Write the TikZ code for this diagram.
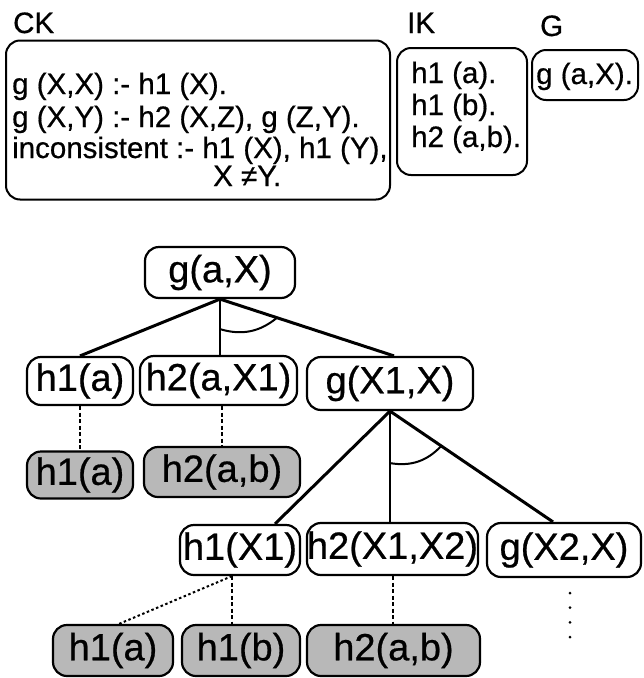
\documentclass[tikz,border=0pt]{standalone}
\usepackage{fontspec}
\setmainfont{Liberation Sans}[FakeBold=0.6]
\usetikzlibrary{calc}
\definecolor{leafgray}{gray}{0.72}
\begin{document}
\begin{tikzpicture}[x=1pt,y=-1pt,
  toptext/.style={font=\fontsize{29.5}{33}\selectfont, inner sep=0pt, anchor=base west},
  kbox/.style={draw, line width=2pt, rounded corners=14pt, inner sep=0pt},
  goal/.style={draw, line width=2.2pt, rounded corners=14pt, inner sep=0pt, font=\fontsize{38}{42}\selectfont},
  fact/.style={goal, fill=leafgray},
  branch/.style={line width=3pt},
  stem/.style={line width=2pt},
  andarc/.style={line width=2pt},
  proof/.style={line width=2pt, dash pattern=on 4pt off 2.5pt},
  proofdiag/.style={line width=2pt, dash pattern=on 2.5pt off 2.5pt},
  more/.style={line width=3pt, line cap=round, dash pattern=on 0pt off 14.7pt}
]
\useasboundingbox (0,0) rectangle (644,678);

% knowledge boxes
\node[toptext] (cklabel) at (13,33) {CK};
\node[kbox, minimum width=384pt, minimum height=159pt] (ck) at (198,120) {};
\node[toptext] (ck1) at (12,94) {g (X,X) :- h1 (X).};
\node[toptext] (ck2) at (12,127) {g (X,Y) :- h2 (X,Z), g (Z,Y).};
\node[toptext] (ck3) at (12,158) {inconsistent :- h1 (X), h1 (Y),};
\node[toptext] (ck4) at (213,186) {X ≠Y.};

\node[toptext] (iklabel) at (407,33) {IK};
\node[kbox, minimum width=130pt, minimum height=127pt] (ik) at (462,111.5) {};
\node[toptext] (ik1) at (411,83) {h1 (a).};
\node[toptext] (ik2) at (411,115) {h1 (b).};
\node[toptext] (ik3) at (411,147) {h2 (a,b).};

\node[toptext] (glabel) at (540,36) {G};
\node[kbox, minimum width=106pt, minimum height=50pt] (gq) at (585,75) {};
\node[toptext] (g1) at (536,84) {g (a,X).};

% proof tree
\node[goal, minimum width=150pt, minimum height=51pt] (root) at (220,272.5) {g(a,X)};
\node[goal, minimum width=106pt, minimum height=48pt] (h1a) at (80,381) {h1(a)};
\node[goal, minimum width=157pt, minimum height=49pt] (h2aX1) at (218.5,380.5) {h2(a,X1)};
\node[goal, minimum width=166pt, minimum height=53pt] (gX1X) at (390,383.5) {g(X1,X)};
\node[fact, minimum width=106pt, minimum height=47pt] (fa) at (80,475) {h1(a)};
\node[fact, minimum width=156pt, minimum height=50pt] (fab) at (222,472) {h2(a,b)};
\node[goal, minimum width=120pt, minimum height=50pt] (h1X1) at (240,550) {h1(X1)};
\node[goal, minimum width=171pt, minimum height=52pt] (h2X1X2) at (392.5,549) {h2(X1,X2)};
\node[goal, minimum width=154pt, minimum height=54pt] (gX2X) at (564,550) {g(X2,X)};
\node[fact, minimum width=120pt, minimum height=51pt] (fa2) at (113,650.5) {h1(a)};
\node[fact, minimum width=118pt, minimum height=51pt] (fb2) at (241,650.5) {h1(b)};
\node[fact, minimum width=173pt, minimum height=51pt] (fab2) at (393.5,650.5) {h2(a,b)};

% level 1 connectors
\draw[branch] (root.south) -- (h1a.north);
\draw[stem] (root.south) -- (root.south |- h2aX1.north);
\draw[branch] (root.south) -- ($(gX1X.north)+(4,0)$);
\draw[andarc] ($(root.south)!30pt!(root.south |- h2aX1.north)$) to[bend right=28] ($(root.south)!60pt!($(gX1X.north)+(4,0)$)$);

% level 2 connectors
\draw[branch] (gX1X.south) -- ($(h1X1.north)+(35,0)$);
\draw[stem] (gX1X.south) -- (gX1X.south |- h2X1X2.north);
\draw[branch] (gX1X.south) -- ($(gX2X.north)+(-11,0)$);
\draw[andarc] ($(gX1X.south)!52pt!(gX1X.south |- h2X1X2.north)$) to[bend right=28] ($(gX1X.south)!62pt!($(gX2X.north)+(-11,0)$)$);

% proof links
\draw[proof] (h1a.south) -- (fa.north);
\draw[proof] (fab.north |- h2aX1.south) -- (fab.north);
\draw[proof] ([xshift=-8pt]h1X1.south) -- ([xshift=-8pt]h1X1.south |- fb2.north);
\draw[proofdiag] ([xshift=-8pt]h1X1.south) -- ([xshift=6pt]fa2.north);
\draw[proof] (h2X1X2.south) -- (h2X1X2.south |- fab2.north);
\coordinate (m1) at (570,593);
\coordinate (m2) at (570,640);
\draw[more] (m1) -- (m2);
\end{tikzpicture}
\end{document}
